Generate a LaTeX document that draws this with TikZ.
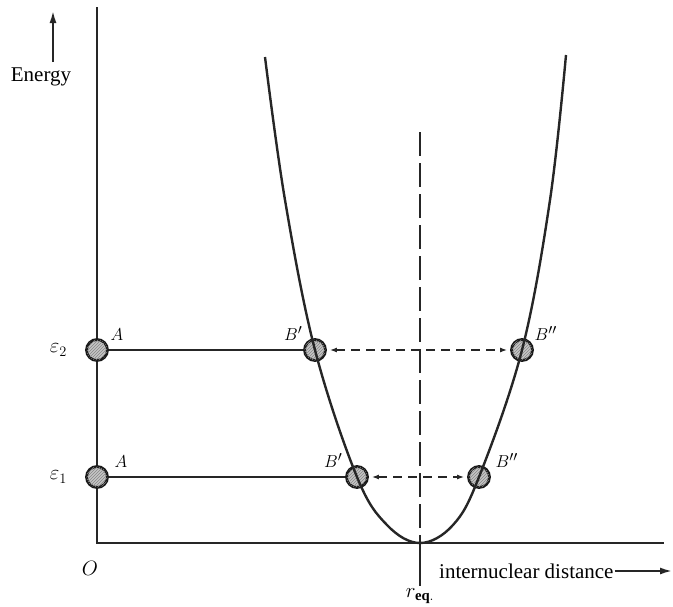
\documentclass[tikz,border=0pt]{standalone}
\usepackage{fontspec}
\setmainfont{Liberation Serif}
\usetikzlibrary{arrows.meta, positioning, patterns}

\begin{document}
\begin{tikzpicture}[
    x=1pt, y=-1pt,
    axis/.style={line width=2pt, black!85},
    curve/.style={line width=2.4pt, black!85},
    atom/.style={
      circle,
      draw=black!90,
      fill=gray!45,
      line width=2.8pt,
      minimum size=21pt,
      inner sep=0pt,
      postaction={pattern=north east lines, pattern color=gray!95},
    },
    bond/.style={line width=1.8pt, black!85},
    shiftarr/.style={line width=1.5pt, black!85, dash pattern=on 9pt off 6pt,
      {Latex[length=7pt, width=5pt]}-{Latex[length=7pt, width=5pt]}, shorten <=3pt, shorten >=3pt},
    centre/.style={line width=1.7pt, black!85, dash pattern=on 24pt off 7pt},
    arr/.style={-{Latex[length=12pt, width=7pt]}, line width=1.8pt, black!85},
    lbl/.style={font=\fontsize{19}{22}\selectfont, inner sep=1pt},
    lvl/.style={font=\fontsize{21}{25}\selectfont, inner sep=0pt},
    axlbl/.style={font=\fontsize{21}{25}\selectfont, inner sep=1pt},
  ]
    \useasboundingbox (0,0) rectangle (673,606);

    % axes
    \coordinate (ytop) at (97,7);
    \coordinate (xend) at (664,543);
    \draw[axis] (ytop) |- (xend);
    \node[axlbl] (orig) at (90,568) {$O$};

    % energy label
    \node[axlbl] (energy) at (41,77) {Energy};
    \coordinate (ebase) at (53,62);
    \coordinate (etip) at (53,11);
    \draw[arr] (ebase) -- (etip);

    % internuclear distance label
    \node[axlbl, anchor=west] (xlabel) at (438,571) {internuclear distance};
    \coordinate (xtip) at (672,571);
    \draw[arr] (xlabel) -- (xtip);

    % equilibrium distance
    \coordinate (reqtop) at (420,132);
    \coordinate (reqfoot) at (420,543);
    \coordinate (reqend) at (420,586);
    \draw[centre] (reqtop) -- (reqfoot);
    \draw[bond] (reqfoot) -- (reqend);
    \node[lvl, below=2pt of reqend] (req) {$r_{\mathbf{eq.}}$};

    % upper level
    \node[atom] (A2) at (97,350) {};
    \node[atom] (Bl2) at (315,350) {};
    \node[atom] (Br2) at (522,350) {};
    \node[lvl, left=18pt of A2] (eps2) {$\varepsilon_2$};
    \node[lbl, above right=0pt and 4pt of A2] {$A$};
    \node[lbl, above left=0pt and 3pt of Bl2] {$B'$};
    \node[lbl, above right=0pt and 3pt of Br2] {$B''$};
    \draw[bond] (A2) -- (Bl2);
    \draw[shiftarr] (Bl2) -- (Br2);

    % lower level
    \node[atom] (A1) at (97,477) {};
    \node[atom] (Bl1) at (357,477) {};
    \node[atom] (Br1) at (479,477) {};
    \node[lvl, left=18pt of A1] (eps1) {$\varepsilon_1$};
    \node[lbl, above right=0pt and 8pt of A1] {$A$};
    \node[lbl, above left=0pt and 5pt of Bl1] {$B'$};
    \node[lbl, above right=0pt and 7pt of Br1] {$B''$};
    \draw[bond] (A1) -- (Bl1);
    \draw[shiftarr] (Bl1) -- (Br1);

    % potential well
    \draw[curve] plot[smooth, tension=0.6] coordinates {
      (265,57) (285,200) (315,350) (357,477) (387,525) (420,543)
      (453,525) (479,477) (522,350) (550,200) (566,55)};
  \end{tikzpicture}
\end{document}
